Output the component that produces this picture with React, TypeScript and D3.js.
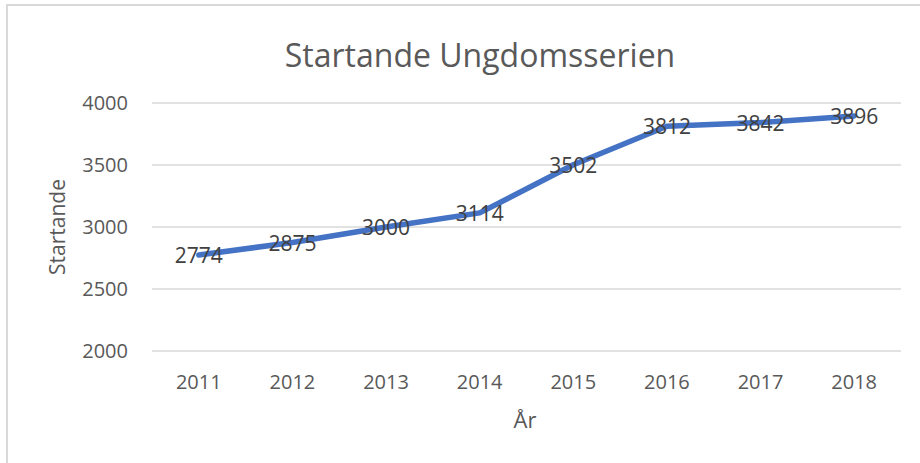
import React, { useEffect, useRef } from "react";
import * as d3 from "d3";

const years = ["2011", "2012", "2013", "2014", "2015", "2016", "2017", "2018"];
const startande = [2774, 2875, 3000, 3114, 3502, 3812, 3842, 3896];
const yTicks = [2000, 2500, 3000, 3500, 4000];

const width = 920;
const height = 463;

const App = () => {
  const svgRef = useRef(null);

  useEffect(() => {
    const svg = d3.select(svgRef.current);
    svg.selectAll("*").remove();

    const font = "'Open Sans', sans-serif";

    // chart frame
    svg
      .append("path")
      .attr("d", `M7,${height + 5} L7,5 L${width + 5},5`)
      .attr("fill", "none")
      .attr("stroke", "#d9d9d9")
      .attr("stroke-width", 2);

    const x = d3.scaleBand().domain(years).range([152, 901]);
    const y = d3.scaleLinear().domain([2000, 4000]).range([351, 103]);
    const cx = (d: string) => x(d)! + x.bandwidth() / 2;

    // gridlines
    svg
      .selectAll(".grid")
      .data(yTicks)
      .join("line")
      .attr("class", "grid")
      .attr("x1", 152)
      .attr("x2", 901)
      .attr("y1", (d) => y(d))
      .attr("y2", (d) => y(d))
      .attr("stroke", "#d9d9d9")
      .attr("stroke-width", 1.5);

    // y tick labels
    svg
      .selectAll(".ytick")
      .data(yTicks)
      .join("text")
      .attr("class", "ytick")
      .attr("x", 128)
      .attr("y", (d) => y(d) + 7)
      .attr("text-anchor", "end")
      .attr("font-family", font)
      .attr("font-size", 20)
      .attr("fill", "#595959")
      .text((d) => d);

    // x tick labels
    svg
      .selectAll(".xtick")
      .data(years)
      .join("text")
      .attr("class", "xtick")
      .attr("x", (d) => cx(d))
      .attr("y", 389)
      .attr("text-anchor", "middle")
      .attr("font-family", font)
      .attr("font-size", 20)
      .attr("fill", "#595959")
      .text((d) => d);

    // the line
    const line = d3
      .line<number>()
      .x((d, i) => cx(years[i]))
      .y((d) => y(d));

    svg
      .append("path")
      .datum(startande)
      .attr("d", line)
      .attr("fill", "none")
      .attr("stroke", "#4472C4")
      .attr("stroke-width", 5.5)
      .attr("stroke-linejoin", "round")
      .attr("stroke-linecap", "round");

    // data labels
    svg
      .selectAll(".lbl")
      .data(startande)
      .join("text")
      .attr("class", "lbl")
      .attr("x", (d, i) => cx(years[i]))
      .attr("y", (d) => y(d) + 8)
      .attr("text-anchor", "middle")
      .attr("font-family", font)
      .attr("font-size", 21)
      .attr("fill", "#404040")
      .text((d) => d);

    // titles
    svg
      .append("text")
      .attr("x", 480)
      .attr("y", 67)
      .attr("text-anchor", "middle")
      .attr("font-family", font)
      .attr("font-size", 32)
      .attr("fill", "#595959")
      .text("Startande Ungdomsserien");

    svg
      .append("text")
      .attr("transform", "translate(65,227) rotate(-90)")
      .attr("text-anchor", "middle")
      .attr("font-family", font)
      .attr("font-size", 21)
      .attr("fill", "#595959")
      .text("Startande");

    svg
      .append("text")
      .attr("x", 525)
      .attr("y", 428)
      .attr("text-anchor", "middle")
      .attr("font-family", font)
      .attr("font-size", 22)
      .attr("fill", "#595959")
      .text("År");
  }, []);

  return (
    <svg
      ref={svgRef}
      width={width}
      height={height}
      style={{ position: "fixed", left: 0, top: 0, background: "#fff" }}
    />
  );
};

export default App;
